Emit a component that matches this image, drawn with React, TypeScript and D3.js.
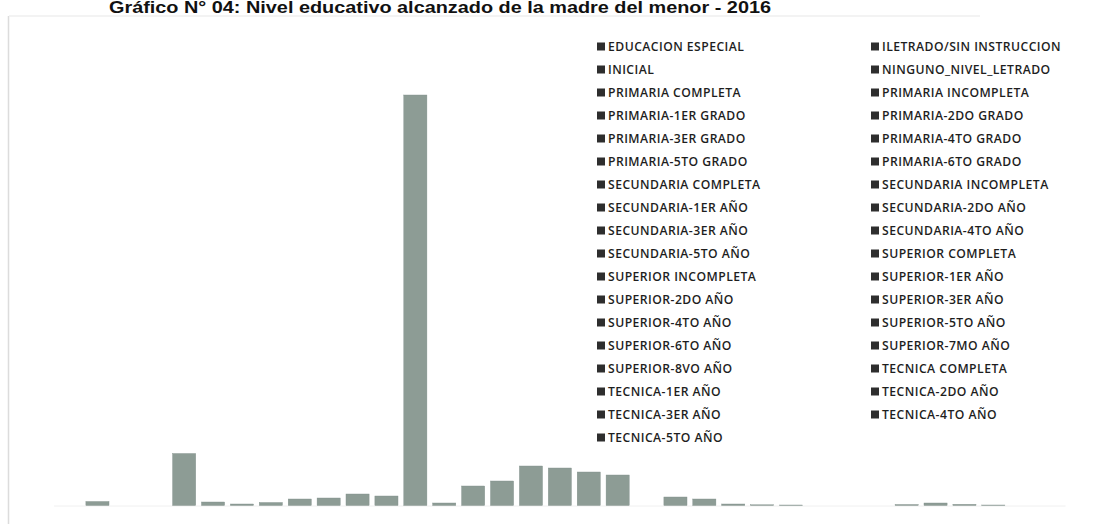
import React from "react";
import * as d3 from "d3";

const TITLE = "Gráfico N° 04: Nivel educativo alcanzado de la madre del menor - 2016";

const categories: string[] = [
  "EDUCACION ESPECIAL",
  "ILETRADO/SIN INSTRUCCION",
  "INICIAL",
  "NINGUNO_NIVEL_LETRADO",
  "PRIMARIA COMPLETA",
  "PRIMARIA INCOMPLETA",
  "PRIMARIA-1ER GRADO",
  "PRIMARIA-2DO GRADO",
  "PRIMARIA-3ER GRADO",
  "PRIMARIA-4TO GRADO",
  "PRIMARIA-5TO GRADO",
  "PRIMARIA-6TO GRADO",
  "SECUNDARIA COMPLETA",
  "SECUNDARIA INCOMPLETA",
  "SECUNDARIA-1ER AÑO",
  "SECUNDARIA-2DO AÑO",
  "SECUNDARIA-3ER AÑO",
  "SECUNDARIA-4TO AÑO",
  "SECUNDARIA-5TO AÑO",
  "SUPERIOR COMPLETA",
  "SUPERIOR INCOMPLETA",
  "SUPERIOR-1ER AÑO",
  "SUPERIOR-2DO AÑO",
  "SUPERIOR-3ER AÑO",
  "SUPERIOR-4TO AÑO",
  "SUPERIOR-5TO AÑO",
  "SUPERIOR-6TO AÑO",
  "SUPERIOR-7MO AÑO",
  "SUPERIOR-8VO AÑO",
  "TECNICA COMPLETA",
  "TECNICA-1ER AÑO",
  "TECNICA-2DO AÑO",
  "TECNICA-3ER AÑO",
  "TECNICA-4TO AÑO",
  "TECNICA-5TO AÑO",
];

const values: number[] = [
  0, 8, 0, 0, 104, 7, 3, 6, 13, 15, 23, 19, 821, 5, 39, 49, 79, 75, 67, 61,
  0, 17, 13, 3, 1.4, 1, 0, 0, 0, 2, 5, 2.4, 1, 0, 0,
];

const yDomainMax = 900;

const W = 1099;
const H = 524;
const plotLeft = 54.1;
const plotRight = 1065.6;
const plotTop = 55.5;
const plotBottom = 505.5;

const BAR = "#8d9c95";
const BAR_EDGE = "#80908a";

export default function App() {
  const x = d3
    .scaleBand<string>()
    .domain(categories)
    .range([plotLeft, plotRight])
    .paddingInner(0.2)
    .paddingOuter(0.1);
  const y = d3.scaleLinear().domain([0, yDomainMax]).range([plotBottom, plotTop]);

  const rows = Math.ceil(categories.length / 2);
  const legendY = d3.scaleLinear().domain([0, rows - 1]).range([46.5, 46.5 + 23 * (rows - 1)]);
  const legendColX = [597, 871];

  return (
    <svg
      width={W}
      height={H}
      style={{ position: "absolute", left: 0, top: 0, background: "#fff" }}
    >
      <rect x={0} y={0} width={W} height={H} fill="#fff" />
      {/* chart border fragments */}
      <line x1={8.5} y1={16} x2={8.5} y2={H} stroke="#dcdcdc" strokeWidth={1.5} />
      <line x1={9} y1={16} x2={980} y2={16} stroke="#efefef" strokeWidth={1.5} />
      <text
        x={440}
        y={13}
        textAnchor="middle"
        fontFamily="'Liberation Sans', Arial, sans-serif"
        fontWeight="bold"
        fontSize={16}
        fill="#111"
        textLength={662}
        lengthAdjust="spacingAndGlyphs"
      >
        {TITLE}
      </text>
      <line x1={plotLeft} y1={plotBottom + 0.5} x2={plotRight} y2={plotBottom + 0.5} stroke="#f0f0f0" />
      {categories.map((c, i) =>
        values[i] > 0 ? (
          <rect
            key={c}
            x={x(c)!}
            y={y(values[i])}
            width={x.bandwidth()}
            height={plotBottom - y(values[i])}
            fill={BAR}
            stroke={BAR_EDGE}
            strokeWidth={0.4}
          />
        ) : null
      )}
      {categories.map((c, i) => {
        const col = i % 2;
        const row = Math.floor(i / 2);
        const cy = legendY(row);
        const lx = legendColX[col];
        return (
          <g key={"lg" + c}>
            <rect x={lx} y={cy - 4} width={8} height={8} fill="#2e2e2e" />
            <text
              x={lx + 11}
              y={cy + 4.3}
              fontFamily="'Open Sans', sans-serif"
              fontSize={12.2}
              fontWeight={600}
              letterSpacing={0.45}
              fill="#1e1e1e"
            >
              {c}
            </text>
          </g>
        );
      })}
    </svg>
  );
}
